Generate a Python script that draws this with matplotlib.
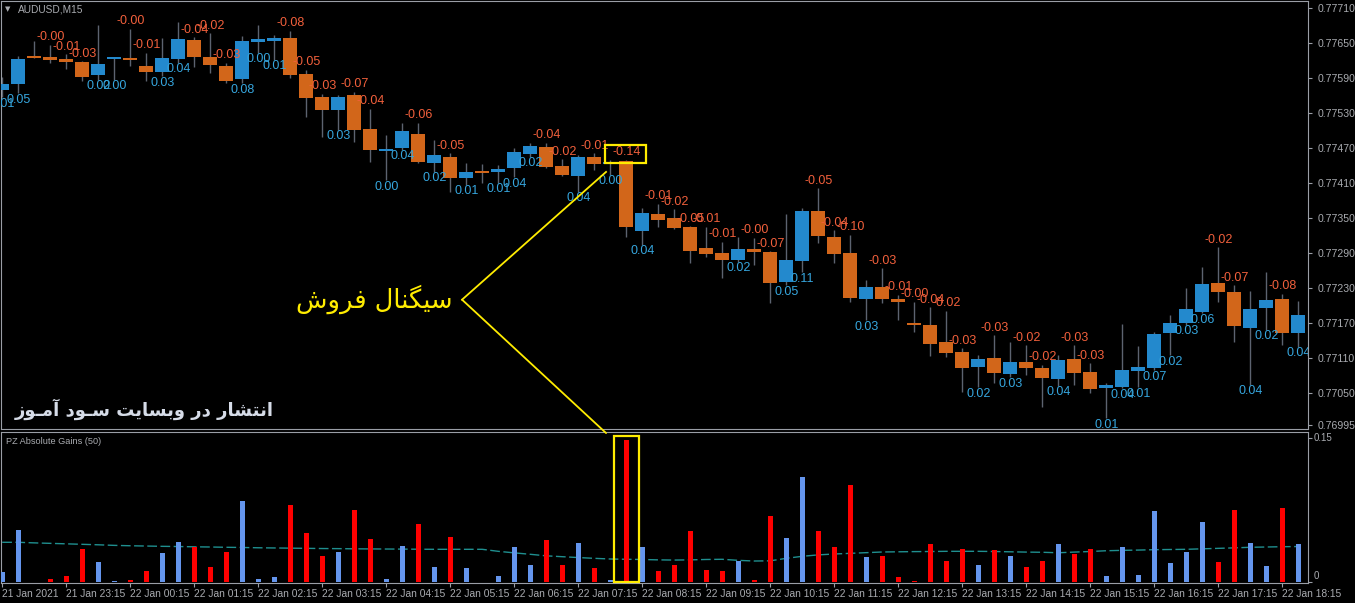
import matplotlib
matplotlib.use('Agg')
import matplotlib.pyplot as plt
from matplotlib.patches import Rectangle, ConnectionPatch
import numpy as np

# ---------------- data ----------------
opens = [0.77569, 0.77580, 0.77626, 0.77626, 0.77623, 0.77617, 0.77595, 0.77622, 0.77624, 0.77611,
         0.77600, 0.77623, 0.77655, 0.77626, 0.77611, 0.77588, 0.77652, 0.77653, 0.77659, 0.77597,
         0.77557, 0.77535, 0.77561, 0.77503, 0.77465, 0.77470, 0.77494, 0.77444, 0.77455, 0.77419,
         0.77429, 0.77429, 0.77436, 0.77460, 0.77472, 0.77439, 0.77422, 0.77455, 0.77443, 0.77448,
         0.77328, 0.77357, 0.77350, 0.77335, 0.77299, 0.77290, 0.77278, 0.77297, 0.77292, 0.77240,
         0.77276, 0.77362, 0.77317, 0.77290, 0.77211, 0.77232, 0.77211, 0.77168, 0.77167, 0.77137,
         0.77120, 0.77095, 0.77110, 0.77083, 0.77103, 0.77093, 0.77074, 0.77108, 0.77086, 0.77059,
         0.77060, 0.77088, 0.77093, 0.77153, 0.77170, 0.77189, 0.77239, 0.77223, 0.77161, 0.77196,
         0.77211, 0.77153]
highs = [0.77592, 0.77628, 0.77653, 0.77647, 0.77631, 0.77619, 0.77681, 0.77624, 0.77674, 0.77633,
         0.77659, 0.77686, 0.77660, 0.77667, 0.77616, 0.77662, 0.77681, 0.77664, 0.77671, 0.77604,
         0.77563, 0.77561, 0.77566, 0.77537, 0.77492, 0.77513, 0.77513, 0.77484, 0.77461, 0.77444,
         0.77443, 0.77441, 0.77470, 0.77479, 0.77479, 0.77451, 0.77458, 0.77461, 0.77449, 0.77450,
         0.77367, 0.77374, 0.77365, 0.77336, 0.77335, 0.77309, 0.77317, 0.77316, 0.77293, 0.77357,
         0.77367, 0.77401, 0.77329, 0.77321, 0.77244, 0.77264, 0.77218, 0.77206, 0.77197, 0.77191,
         0.77127, 0.77115, 0.77149, 0.77137, 0.77132, 0.77098, 0.77115, 0.77132, 0.77101, 0.77067,
         0.77168, 0.77131, 0.77155, 0.77184, 0.77230, 0.77266, 0.77300, 0.77235, 0.77225, 0.77257,
         0.77220, 0.77208]
lows = [0.77557, 0.77564, 0.77624, 0.77616, 0.77605, 0.77585, 0.77587, 0.77587, 0.77611, 0.77585,
        0.77593, 0.77616, 0.77609, 0.77599, 0.77581, 0.77581, 0.77633, 0.77621, 0.77590, 0.77523,
        0.77489, 0.77501, 0.77480, 0.77446, 0.77415, 0.77467, 0.77444, 0.77429, 0.77395, 0.77407,
        0.77410, 0.77410, 0.77420, 0.77455, 0.77435, 0.77422, 0.77395, 0.77432, 0.77424, 0.77317,
        0.77304, 0.77335, 0.77331, 0.77273, 0.77283, 0.77247, 0.77275, 0.77269, 0.77204, 0.77235,
        0.77257, 0.77307, 0.77273, 0.77206, 0.77175, 0.77204, 0.77175, 0.77155, 0.77113, 0.77112,
        0.77052, 0.77060, 0.77067, 0.77077, 0.77081, 0.77026, 0.77062, 0.77064, 0.77050, 0.77007,
        0.77058, 0.77060, 0.77089, 0.77115, 0.77167, 0.77187, 0.77206, 0.77137, 0.77064, 0.77158,
        0.77132, 0.77129]
closes = [0.77580, 0.77623, 0.77624, 0.77621, 0.77617, 0.77592, 0.77614, 0.77623, 0.77621, 0.77600,
          0.77624, 0.77657, 0.77626, 0.77612, 0.77585, 0.77653, 0.77657, 0.77659, 0.77595, 0.77556,
          0.77535, 0.77557, 0.77501, 0.77467, 0.77468, 0.77499, 0.77446, 0.77458, 0.77419, 0.77429,
          0.77427, 0.77434, 0.77463, 0.77473, 0.77437, 0.77424, 0.77455, 0.77443, 0.77444, 0.77335,
          0.77359, 0.77347, 0.77333, 0.77293, 0.77288, 0.77278, 0.77297, 0.77292, 0.77239, 0.77278,
          0.77362, 0.77319, 0.77288, 0.77213, 0.77232, 0.77211, 0.77206, 0.77167, 0.77134, 0.77119,
          0.77093, 0.77108, 0.77084, 0.77103, 0.77093, 0.77076, 0.77107, 0.77084, 0.77057, 0.77064,
          0.77089, 0.77095, 0.77151, 0.77170, 0.77194, 0.77237, 0.77223, 0.77165, 0.77194, 0.77209,
          0.77153, 0.77184]
change_labels = ["0.01", "0.05", "", "-0.00", "-0.01", "-0.03", "0.02", "0.00", "-0.00", "-0.01",
                 "0.03", "0.04", "-0.04", "-0.02", "-0.03", "0.08", "0.00", "0.01", "-0.08", "-0.05",
                 "-0.03", "0.03", "-0.07", "-0.04", "0.00", "0.04", "-0.06", "0.02", "-0.05", "0.01",
                 "", "0.01", "0.04", "0.02", "-0.04", "-0.02", "0.04", "-0.01", "0.00", "-0.14",
                 "0.04", "-0.01", "-0.02", "-0.05", "-0.01", "-0.01", "0.02", "-0.00", "-0.07", "0.05",
                 "0.11", "-0.05", "-0.04", "-0.10", "0.03", "-0.03", "-0.01", "-0.00", "-0.04", "-0.02",
                 "-0.03", "0.02", "-0.03", "0.03", "-0.02", "-0.02", "0.04", "-0.03", "-0.03", "0.01",
                 "0.04", "0.01", "0.07", "0.02", "0.03", "0.06", "-0.02", "-0.07", "0.04", "0.02",
                 "-0.08", "0.04"]
gains = [0.0111, 0.0545, 0.0, 0.0034, 0.0070, 0.0351, 0.0211, 0.0018, 0.0024, 0.0118,
         0.0305, 0.0420, 0.0372, 0.0164, 0.0316, 0.0847, 0.0034, 0.0059, 0.0809, 0.0518,
         0.0278, 0.0316, 0.0753, 0.0455, 0.0034, 0.0378, 0.0607, 0.0164, 0.0476, 0.0153,
         0.0, 0.0066, 0.0372, 0.0180, 0.0441, 0.0180, 0.0409, 0.0153, 0.0024, 0.1482,
         0.0372, 0.0122, 0.0180, 0.0539, 0.0128, 0.0118, 0.0226, 0.0024, 0.0691, 0.0461,
         0.1097, 0.0539, 0.0372, 0.1014, 0.0264, 0.0278, 0.0059, 0.0014, 0.0399, 0.0226,
         0.0351, 0.0180, 0.0336, 0.0278, 0.0164, 0.0226, 0.0399, 0.0292, 0.0351, 0.0066,
         0.0372, 0.0076, 0.0743, 0.0205, 0.0316, 0.0628, 0.0216, 0.0753, 0.0409, 0.0170,
         0.0774, 0.0399]
gains_ma = [0.0417, 0.0417, 0.0411, 0.0406, 0.0401, 0.0396, 0.0391, 0.0385, 0.0381, 0.0378,
            0.0375, 0.0373, 0.0370, 0.0368, 0.0365, 0.0363, 0.0360, 0.0358, 0.0356, 0.0354,
            0.0352, 0.0351, 0.0349, 0.0348, 0.0347, 0.0346, 0.0345, 0.0344, 0.0344, 0.0344,
            0.0344, 0.0323, 0.0307, 0.0292, 0.0276, 0.0267, 0.0258, 0.0250, 0.0243, 0.0240,
            0.0238, 0.0234, 0.0232, 0.0234, 0.0238, 0.0240, 0.0229, 0.0222, 0.0224, 0.0250,
            0.0271, 0.0286, 0.0295, 0.0302, 0.0309, 0.0316, 0.0318, 0.0320, 0.0321, 0.0323,
            0.0323, 0.0323, 0.0321, 0.0318, 0.0315, 0.0313, 0.0308, 0.0315, 0.0321, 0.0329,
            0.0333, 0.0336, 0.0340, 0.0342, 0.0344, 0.0349, 0.0354, 0.0359, 0.0365, 0.0368,
            0.0371, 0.0373]
price_ticks = [0.77710, 0.77650, 0.77590, 0.77530, 0.77470, 0.77410, 0.77350, 0.77290,
               0.77230, 0.77170, 0.77110, 0.77050, 0.76995]
time_labels = ["21 Jan 2021", "21 Jan 23:15", "22 Jan 00:15", "22 Jan 01:15", "22 Jan 02:15",
               "22 Jan 03:15", "22 Jan 04:15", "22 Jan 05:15", "22 Jan 06:15", "22 Jan 07:15",
               "22 Jan 08:15", "22 Jan 09:15", "22 Jan 10:15", "22 Jan 11:15", "22 Jan 12:15",
               "22 Jan 13:15", "22 Jan 14:15", "22 Jan 15:15", "22 Jan 16:15", "22 Jan 17:15",
               "22 Jan 18:15"]
symbol_title = "AUDUSD,M15"
indicator_title = "PZ Absolute Gains (50)"
signal_text = "سیگنال فروش"
watermark_text = "انتشار در وبسایت سـود آمـوز"
signal_bar = 39


# ------------- simple Persian shaping (visual order) -------------
def shape_fa(text):
    forms = {
        'ا': ('\uFE8D', '\uFE8E', None, None),
        'آ': ('\uFE81', '\uFE82', None, None),
        'ب': ('\uFE8F', '\uFE90', '\uFE91', '\uFE92'),
        'ت': ('\uFE95', '\uFE96', '\uFE97', '\uFE98'),
        'د': ('\uFEA9', '\uFEAA', None, None),
        'ر': ('\uFEAD', '\uFEAE', None, None),
        'ز': ('\uFEAF', '\uFEB0', None, None),
        'س': ('\uFEB1', '\uFEB2', '\uFEB3', '\uFEB4'),
        'ش': ('\uFEB5', '\uFEB6', '\uFEB7', '\uFEB8'),
        'ف': ('\uFED1', '\uFED2', '\uFED3', '\uFED4'),
        'ل': ('\uFEDD', '\uFEDE', '\uFEDF', '\uFEE0'),
        'م': ('\uFEE1', '\uFEE2', '\uFEE3', '\uFEE4'),
        'ن': ('\uFEE5', '\uFEE6', '\uFEE7', '\uFEE8'),
        'و': ('\uFEED', '\uFEEE', None, None),
        'ی': ('\uFBFC', '\uFBFD', '\uFBFE', '\uFBFF'),
        'گ': ('\uFB92', '\uFB93', '\uFB94', '\uFB95'),
    }
    tatweel = '\u0640'

    def joins_next(ch):
        return ch == tatweel or (ch in forms and forms[ch][2] is not None)

    def joins_prev(ch):
        return ch == tatweel or ch in forms

    out = []
    for k, ch in enumerate(text):
        if ch not in forms:
            out.append(ch)
            continue
        prev = text[k - 1] if k > 0 else ''
        nxt = text[k + 1] if k + 1 < len(text) else ''
        jp = prev != '' and joins_next(prev)
        jn = nxt != '' and joins_next(ch) and joins_prev(nxt)
        iso, fin, ini, med = forms[ch]
        if jp and jn:
            out.append(med)
        elif jp:
            out.append(fin)
        elif jn:
            out.append(ini)
        else:
            out.append(iso)
    return ''.join(reversed(out))


# ---------------- styling ----------------
BG = '#000000'
GRID = '#9a9ea6'
TXT = '#a9abb0'
UP = '#2389cd'
DOWN = '#d2661a'
WICK = '#5c6370'
LBL_UP = '#36a6de'
LBL_DN = '#f2603c'
HUP = '#6495ed'
HDN = '#ff0000'
YEL = '#ffec00'
LATIN = ['Liberation Sans', 'DejaVu Sans']
NARROW = ['Liberation Sans Narrow', 'Liberation Sans', 'DejaVu Sans']

W, H = 1355, 603
fig = plt.figure(figsize=(W / 100, H / 100), dpi=100, facecolor=BG)


def fx(px):
    return px / W


def fy(py):
    return 1 - py / H


ax1 = fig.add_axes([fx(1), fy(429), fx(1307), (429 - 1) / H])
ax2 = fig.add_axes([fx(1), fy(583), fx(1307), (583 - 432) / H])
for ax in (ax1, ax2):
    ax.set_facecolor(BG)
    for s in ax.spines.values():
        s.set_color(GRID)
        s.set_linewidth(0.8)

n = len(opens)
x = np.arange(n)
o = np.array(opens); c = np.array(closes); hi = np.array(highs); lo = np.array(lows)
up = c >= o

xlim = (-0.075, 81.61)
ax1.set_xlim(*xlim)
ax1.set_ylim(0.769883, 0.777220)

# wicks
ax1.vlines(x, lo, hi, color=WICK, linewidth=1.0, zorder=2)
# bodies
body_h = np.maximum(np.abs(c - o), 0.000035)
body_b = np.minimum(o, c)
ax1.bar(x, body_h, bottom=body_b, width=0.9, color=np.where(up, UP, DOWN),
        linewidth=0, zorder=3)

# change labels
for i in range(n):
    t = change_labels[i]
    if not t:
        continue
    if up[i]:
        ax1.text(x[i], lo[i] - 0.00011, t, color=LBL_UP, ha='center', va='center',
                 fontsize=9, family=LATIN, zorder=4, clip_on=True)
    else:
        ax1.text(x[i], hi[i] + 0.00013, t, color=LBL_DN, ha='center', va='center',
                 fontsize=9, family=LATIN, zorder=4, clip_on=True)

# price axis
ax1.yaxis.tick_right()
ax1.set_yticks(price_ticks)
ax1.set_yticklabels([f'{p:.5f}' for p in price_ticks])
ax1.tick_params(axis='y', direction='out', length=3, width=0.8, colors=GRID, pad=4)
for lab in ax1.get_yticklabels():
    lab.set_color(TXT); lab.set_fontsize(7.6); lab.set_family(NARROW)
ax1.set_xticks([])

# title
fig.text(fx(8), fy(9), '▼', color=TXT, fontsize=5, ha='center', va='center', family=['DejaVu Sans'])
fig.text(fx(18), fy(9.5), symbol_title, color=TXT, fontsize=7.3, ha='left', va='center', family=LATIN)

# ---- lower pane ----
ax2.set_xlim(*xlim)
ax2.set_ylim(-0.0007, 0.1566)
ax2.bar(x, gains, width=0.33, color=np.where(up, HUP, HDN), linewidth=0, zorder=3)
ax2.plot(x, gains_ma, color='#1f8f8f', linewidth=1.0, linestyle=(0, (7, 2.5)), zorder=2)
ax2.set_yticks([0, 0.15])
ax2.yaxis.tick_right()
ax2.tick_params(axis='y', direction='out', length=3, width=0.8, colors=GRID, labelright=False)
ax2.text(1.004, 0.15, '0.15', transform=ax2.get_yaxis_transform(), color=TXT, fontsize=7,
         ha='left', va='center', family=NARROW)
ax2.text(1.004, 0.001, '0', transform=ax2.get_yaxis_transform(), color=TXT, fontsize=7,
         ha='left', va='bottom', family=NARROW)
tick_pos = np.arange(0, n, 4)[:len(time_labels)]
ax2.set_xticks(tick_pos)
ax2.set_xticklabels(time_labels)
ax2.tick_params(axis='x', direction='out', length=3, width=0.8, colors=GRID, pad=1.5)
for lab in ax2.get_xticklabels():
    lab.set_color(TXT); lab.set_fontsize(7.4); lab.set_family(NARROW); lab.set_ha('left')
ax2.text(0.004, 0.94, indicator_title, transform=ax2.transAxes, color=TXT, fontsize=6.6,
         ha='left', va='center', family=LATIN)

# ---- annotations ----
sb = signal_bar
ax1.add_patch(Rectangle((sb - 1.32, 0.774443), 2.56, 0.000308, fill=False, edgecolor=YEL,
                        linewidth=1.6, zorder=6))
ax2.add_patch(Rectangle((sb - 0.76, 0.0002), 1.56, 0.152, fill=False, edgecolor=YEL,
                        linewidth=1.6, zorder=6, clip_on=False))
vx, vy = 28.74, 0.77210
ax1.plot([vx, sb - 1.26], [vy, 0.77429], color=YEL, linewidth=1.3, zorder=6)
con = ConnectionPatch(xyA=(vx, vy), coordsA=ax1.transData,
                      xyB=(sb - 1.26, 0.1555), coordsB=ax2.transData,
                      color=YEL, linewidth=1.3, zorder=6)
fig.add_artist(con)

ax1.text(vx - 0.6, vy, shape_fa(signal_text), color=YEL, fontsize=18.5, ha='right', va='center',
         family=['DejaVu Sans'], zorder=6)
ax1.text(8.86, 0.770226, shape_fa(watermark_text), color='#d6dce8', fontsize=13,
         fontweight='bold', ha='center', va='center', family=['DejaVu Sans'], zorder=6)

fig.savefig('out.png', dpi=100, facecolor=BG)
